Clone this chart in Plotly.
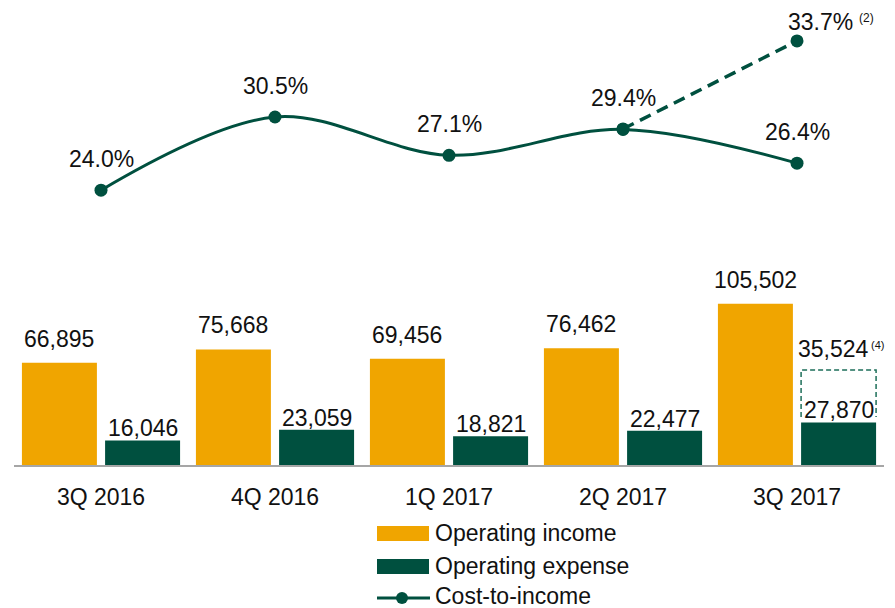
import plotly.graph_objects as go

# ---------------- data ----------------
categories = ["3Q 2016", "4Q 2016", "1Q 2017", "2Q 2017", "3Q 2017"]
operating_income = [66895, 75668, 69456, 76462, 105502]
operating_expense = [16046, 23059, 18821, 22477, 27870]
cost_to_income = [24.0, 30.5, 27.1, 29.4, 26.4]

# adjusted figures shown for the last quarter
adj_expense_label = 35524          # dashed box, footnote (4)
adj_cost_to_income = [29.4, 33.7]  # dashed line 2Q->3Q 2017, footnote (2)
adj_expense_base = 27870

# ---------------- style ----------------
ORANGE = "#F0A500"
GREEN = "#00503F"
BOX_GREEN = "#1C6E59"
TXT = "#111111"
FONT = "Liberation Sans, Arial, sans-serif"
FS = 23

BAR_W = 0.431
GAP = 0.047
OFF_INC = -(BAR_W + GAP / 2)
OFF_EXP = GAP / 2

xs = list(range(len(categories)))

fig = go.Figure()

fig.add_trace(go.Bar(
    x=xs, y=operating_income, width=BAR_W, offset=OFF_INC,
    marker=dict(color=ORANGE, line=dict(width=0)),
    name="Operating income", yaxis="y", showlegend=False, hoverinfo="y"))
fig.add_trace(go.Bar(
    x=xs, y=operating_expense, width=BAR_W, offset=OFF_EXP,
    marker=dict(color=GREEN, line=dict(width=0)),
    name="Operating expense", yaxis="y", showlegend=False, hoverinfo="y"))

# dashed outline for adjusted expense (own scale)
bx0 = xs[-1] + OFF_EXP
bx1 = xs[-1] + OFF_EXP + BAR_W
fig.add_trace(go.Scatter(
    x=[bx0, bx0, bx1, bx1],
    y=[adj_expense_base, adj_expense_label, adj_expense_label, adj_expense_base],
    mode="lines", line=dict(color=BOX_GREEN, width=1.5, dash="5px,3px"),
    yaxis="y4", showlegend=False, hoverinfo="skip"))

# cost-to-income line
fig.add_trace(go.Scatter(
    x=xs, y=cost_to_income, mode="lines+markers",
    line=dict(color=GREEN, width=3, shape="spline", smoothing=1.0),
    marker=dict(color=GREEN, size=13),
    name="Cost-to-income", yaxis="y2", showlegend=False))

# adjusted cost-to-income dashed line
fig.add_trace(go.Scatter(
    x=xs[-2:], y=adj_cost_to_income, mode="lines+markers",
    line=dict(color=GREEN, width=3.5, dash="12px,7px"),
    marker=dict(color=GREEN, size=13),
    yaxis="y3", showlegend=False))

annotations = []
# bar labels
for i, v in enumerate(operating_income):
    annotations.append(dict(x=xs[i] + OFF_INC + BAR_W / 2, y=v, xref="x", yref="y",
                            text=f"{v:,}", showarrow=False, yanchor="bottom",
                            yshift=9, font=dict(size=FS, color=TXT, family=FONT)))
for i, v in enumerate(operating_expense):
    annotations.append(dict(x=xs[i] + OFF_EXP + BAR_W / 2, y=v, xref="x", yref="y",
                            text=f"{v:,}", showarrow=False, yanchor="bottom",
                            yshift=-3, font=dict(size=FS, color=TXT, family=FONT)))
annotations.append(dict(x=xs[-1] + OFF_EXP + BAR_W / 2, y=adj_expense_label, xref="x", yref="y4",
                        text=f"{adj_expense_label:,}", showarrow=False, yanchor="bottom",
                        xshift=-5, yshift=6, font=dict(size=FS, color=TXT, family=FONT)))
annotations.append(dict(x=bx1, y=adj_expense_label, xref="x", yref="y4",
                        text="(4)", showarrow=False, yanchor="bottom", xanchor="left",
                        xshift=-6, yshift=18, borderpad=0,
                        font=dict(size=11, color=TXT, family=FONT)))
# line labels
for i, v in enumerate(cost_to_income):
    annotations.append(dict(x=xs[i], y=v, xref="x", yref="y2",
                            text=f"{v:.1f}%", showarrow=False, yanchor="middle",
                            yshift=31, font=dict(size=FS, color=TXT, family=FONT)))
annotations.append(dict(x=xs[-1], y=adj_cost_to_income[-1], xref="x", yref="y3",
                        text=f"{adj_cost_to_income[-1]:.1f}%", showarrow=False, yanchor="middle",
                        xshift=23, yshift=19, font=dict(size=FS, color=TXT, family=FONT)))
annotations.append(dict(x=xs[-1], y=adj_cost_to_income[-1], xref="x", yref="y3",
                        text="(2)", showarrow=False, yanchor="middle", xanchor="left",
                        xshift=60, yshift=23, font=dict(size=12, color=TXT, family=FONT)))

# ---------------- layout / manual legend ----------------
OX, OY = 8, 8                 # page body margin of the browser
WIN_W, WIN_H = 895, 608
W, H = WIN_W - OX, WIN_H - OY
PLOT_X0, PLOT_X1, PLOT_Y0, PLOT_Y1 = 14, 884, 10, 465   # window pixels
L, R = PLOT_X0 - OX, WIN_W - PLOT_X1
T, B = PLOT_Y0 - OY, WIN_H - PLOT_Y1
PW, PH = PLOT_X1 - PLOT_X0, PLOT_Y1 - PLOT_Y0


def px(xp):
    return (xp - PLOT_X0) / PW


def py(yp):
    return (PLOT_Y1 - yp) / PH


shapes = [
    dict(type="rect", xref="paper", yref="paper", x0=px(377), x1=px(429), y0=py(541), y1=py(526),
         fillcolor=ORANGE, line=dict(width=0)),
    dict(type="rect", xref="paper", yref="paper", x0=px(377), x1=px(429), y0=py(574), y1=py(559),
         fillcolor=GREEN, line=dict(width=0)),
    dict(type="line", xref="paper", yref="paper", x0=px(377), x1=px(430), y0=py(598), y1=py(598),
         line=dict(color=GREEN, width=3)),
    dict(type="circle", xref="paper", yref="paper", x0=px(396), x1=px(408), y0=py(604), y1=py(592),
         fillcolor=GREEN, line=dict(width=0)),
]
for text, yc in [("Operating income", 533), ("Operating expense", 566), ("Cost-to-income", 596)]:
    annotations.append(dict(x=px(433), y=py(yc), xref="paper", yref="paper", text=text,
                            showarrow=False, xanchor="left", yanchor="middle",
                            font=dict(size=FS, color=TXT, family=FONT)))

fig.update_layout(
    width=W, height=H,
    margin=dict(l=L, r=R, t=T, b=B),
    paper_bgcolor="white", plot_bgcolor="white",
    barmode="overlay",
    showlegend=False,
    font=dict(family=FONT, size=FS, color=TXT),
    xaxis=dict(range=[-0.5, 4.5], tickmode="array", tickvals=xs, ticktext=categories,
               showgrid=False, zeroline=False, showline=True, linecolor="#A6A6A6", linewidth=2,
               ticks="", ticklabelstandoff=10, tickfont=dict(size=FS, color=TXT, family=FONT),
               anchor="y", fixedrange=True),
    yaxis=dict(domain=[0, 0.45], range=[0, 134000], visible=False, fixedrange=True),
    yaxis2=dict(domain=[0.5, 1], range=[19.8, 40.0], visible=False, anchor="x", fixedrange=True),
    yaxis3=dict(overlaying="y2", range=[24.10, 35.21], visible=False, fixedrange=True),
    yaxis4=dict(overlaying="y", range=[20053, 53400], visible=False, fixedrange=True),
    annotations=annotations,
    shapes=shapes,
)

fig.write_html("out.html")
